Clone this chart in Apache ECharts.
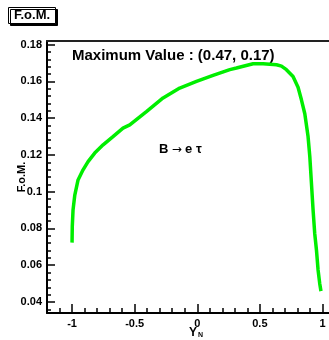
<!DOCTYPE html>
<html>
<head>
<meta charset="utf-8">
<script src="https://cdn.jsdelivr.net/npm/echarts@6/dist/echarts.min.js"></script>
<style>
html,body{margin:0;padding:0;background:#fff;}
#c{width:329px;height:340px;}
</style>
</head>
<body>
<div id="c"></div>
<script>
// Curve data (Y_N vs F.o.M.)
var xVals = [-1.000,-0.998,-0.992,-0.978,-0.952,-0.912,-0.872,-0.819,-0.752,-0.673,-0.593,-0.539,-0.406,-0.273,-0.140,-0.006,0.126,0.260,0.313,0.446,0.526,0.633,0.673,0.712,0.765,0.805,0.832,0.859,0.885,0.899,0.912,0.925,0.938,0.952,0.965,0.978,0.988];
var yVals = [0.0723,0.0813,0.0901,0.0982,0.1064,0.1119,0.1164,0.1210,0.1255,0.1300,0.1346,0.1364,0.1436,0.1510,0.1564,0.1600,0.1633,0.1664,0.1673,0.1696,0.1696,0.1691,0.1683,0.1664,0.1627,0.1568,0.1500,0.1424,0.1300,0.1191,0.1046,0.0901,0.0774,0.0683,0.0574,0.0501,0.0459];

// Tick values
var xMajorTicks = [-1,-0.5,0,0.5,1];
var xMinorTicks = [-1.1,-0.9,-0.8,-0.7,-0.6,-0.4,-0.3,-0.2,-0.1,0.1,0.2,0.3,0.4,0.6,0.7,0.8,0.9,1.1];
var yMajorTicks = [0.04,0.06,0.08,0.1,0.12,0.14,0.16,0.18];
var yMinorTicks = [0.036,0.044,0.048,0.052,0.056,0.064,0.068,0.072,0.076,0.084,0.088,0.092,0.096,0.104,0.108,0.112,0.116,0.124,0.128,0.132,0.136,0.144,0.148,0.152,0.156,0.164,0.168,0.172,0.176];

var xRange = [-1.2, 1.2];
var yRange = [0.034, 0.182];

var FONT = '"Liberation Sans", Arial, sans-serif';

function fmt(v){ return String(Math.round(v*1000)/1000); }

var data = xVals.map(function(x,i){ return [x, yVals[i]]; });

var chart = echarts.init(document.getElementById('c'), null, {renderer:'canvas'});

var baseX = {type:'value', min:xRange[0], max:xRange[1], splitLine:{show:false}};
var baseY = {type:'value', min:yRange[0], max:yRange[1], splitLine:{show:false}};

chart.setOption({
  animation:false,
  backgroundColor:'#fff',
  title:{
    text:'F.o.M.', left:8, top:7,
    padding:[2,6,2,6],
    borderColor:'#000', borderWidth:1,
    backgroundColor:'#fff',
    shadowColor:'#000', shadowOffsetX:2, shadowOffsetY:2, shadowBlur:0,
    textStyle:{fontFamily:FONT, fontWeight:'bold', fontSize:13, color:'#000'}
  },
  grid:{left:47, top:41, width:300.5, height:272, outerBoundsMode:'none', containLabel:false},
  xAxis:[
    Object.assign({}, baseX, {
      position:'bottom',
      axisLine:{show:true, onZero:false, lineStyle:{color:'#000', width:2}},
      axisTick:{show:true, inside:true, length:9, customValues:xMajorTicks, lineStyle:{color:'#000', width:1.5}},
      axisLabel:{show:true, customValues:xMajorTicks, margin:5, formatter:fmt,
        fontFamily:FONT, fontWeight:'bold', fontSize:11, color:'#000'}
    }),
    Object.assign({}, baseX, {
      position:'bottom',
      axisLine:{show:false, onZero:false},
      axisTick:{show:true, inside:true, length:5, customValues:xMinorTicks, lineStyle:{color:'#000', width:1.5}},
      axisLabel:{show:false}
    }),
    Object.assign({}, baseX, {
      position:'top',
      axisLine:{show:true, onZero:false, lineStyle:{color:'#222', width:2}},
      axisTick:{show:false},
      axisLabel:{show:false}
    })
  ],
  yAxis:[
    Object.assign({}, baseY, {
      position:'left',
      axisLine:{show:true, onZero:false, lineStyle:{color:'#000', width:2}},
      axisTick:{show:true, inside:true, length:8, customValues:yMajorTicks, lineStyle:{color:'#000', width:1.5}},
      axisLabel:{show:true, customValues:yMajorTicks, margin:5, formatter:fmt,
        fontFamily:FONT, fontWeight:'bold', fontSize:11, color:'#000'}
    }),
    Object.assign({}, baseY, {
      position:'left',
      axisLine:{show:false, onZero:false},
      axisTick:{show:true, inside:true, length:4, customValues:yMinorTicks, lineStyle:{color:'#000', width:1.5}},
      axisLabel:{show:false}
    })
  ],
  series:[{
    type:'line', xAxisIndex:0, yAxisIndex:0,
    data:data, showSymbol:false, symbol:'none', smooth:false,
    lineStyle:{color:'#00ee00', width:3.5},
    clip:true
  }],
  graphic:[
    {type:'text', left:72, top:48, style:{text:'Maximum Value : (0.47, 0.17)', font:'bold 15px "Liberation Sans", Arial, sans-serif', fill:'#000'}},
    {type:'text', left:159, top:143, style:{
      text:'{b|B} {r|\u2192} {b|e \u03c4}',
      rich:{b:{font:'bold 13px "Liberation Sans", Arial, sans-serif', fill:'#000'},
            r:{font:'12px "DejaVu Sans", sans-serif', fill:'#000'}}
    }},
    {type:'text', x:27, y:177, rotation:Math.PI/2, style:{text:'F.o.M.', font:'bold 11px "Liberation Sans", Arial, sans-serif', fill:'#000', align:'center', verticalAlign:'bottom'}},
    {type:'text', left:189, top:327, style:{
      text:'{a|Y}{b|N}',
      rich:{a:{font:'bold 12px "Liberation Sans", Arial, sans-serif', fill:'#000'},
            b:{font:'bold 7px "Liberation Sans", Arial, sans-serif', fill:'#000', verticalAlign:'bottom', padding:[5,0,0,1]}}
    }}
  ]
});
</script>
</body>
</html>
